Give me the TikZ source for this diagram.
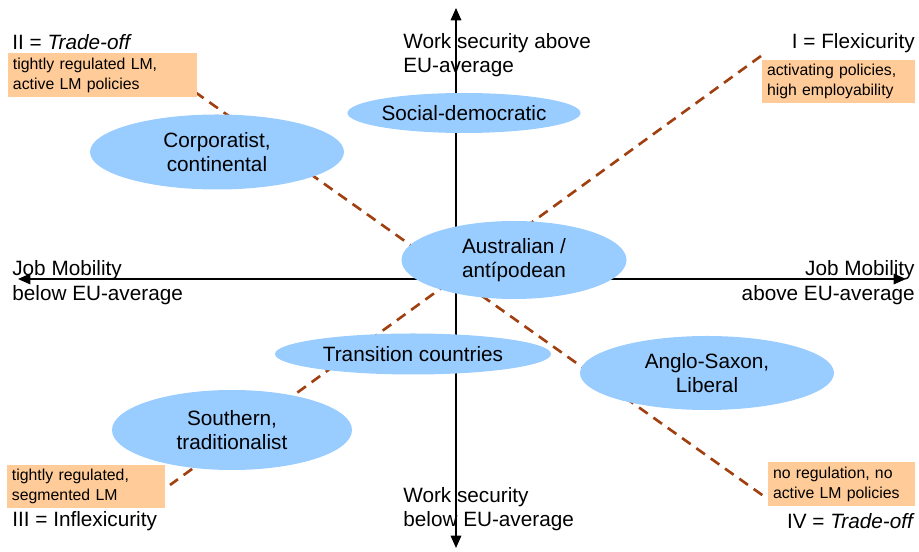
\documentclass[tikz,border=0pt]{standalone}
\usepackage{fontspec}
\setmainfont{Liberation Sans}
\usetikzlibrary{positioning,
        shapes.geometric,
        arrows.meta}
\usepackage{xcolor}
\definecolor{regime}{RGB}{153,204,255}
\definecolor{note}{RGB}{255,204,153}
\definecolor{diag}{RGB}{160,64,16}

\begin{document}
\begin{tikzpicture}[
        axis/.style={line width=0.9pt,{Triangle[length=7pt,width=6pt]}-{Triangle[length=7pt,width=6pt]}},
        diagline/.style={draw=diag,line width=1.5pt,dash pattern=on 6pt off 4pt},
        regime/.style={ellipse,fill=regime,inner sep=0pt,align=center,font=\fontsize{11.8}{14}\selectfont},
        notebox/.style={rectangle,fill=note,inner xsep=0.1cm,inner ysep=0pt,align=left,font=\fontsize{9}{11.3}\selectfont},
        lbl/.style={inner sep=0pt,font=\fontsize{11.8}{14}\selectfont}]
            \useasboundingbox (0,0) rectangle (18.38,-11.04);

            % axes
            \coordinate (top) at (9.12,-0.16);
            \coordinate (bottom) at (9.12,-10.96);
            \coordinate (left) at (0.36,-5.58);
            \coordinate (right) at (18.12,-5.58);
            \draw [axis] (bottom) -- (top);
            \draw [axis] (left) -- (right);

            % quadrant diagonals
            \coordinate (d1a) at (15.22,-1.12);
            \coordinate (d1b) at (3.40,-9.70);
            \coordinate (d2a) at (3.90,-1.84);
            \coordinate (d2b) at (15.30,-9.94);
            \draw [diagline] (d1a) -- (d1b);
            \draw [diagline] (d2a) -- (d2b);

            % welfare regimes
            \node [regime,minimum width=4.24cm,minimum height=0.8cm] (social) at (9.28,-2.26) {Social-democratic};
            \node [regime,minimum width=5.08cm,minimum height=1.5cm] (corp) at (4.34,-3.04) {Corporatist,\\continental};
            \node [regime,minimum width=4.5cm,minimum height=1.56cm] (austr) at (10.28,-5.2) {Australian /\\antípodean};
            \node [regime,minimum width=5.52cm,minimum height=0.82cm] (trans) at (8.26,-7.08) {Transition countries};
            \node [regime,minimum width=5.08cm,minimum height=1.48cm] (anglo) at (14.14,-7.46) {Anglo-Saxon,\\Liberal};
            \node [regime,minimum width=4.8cm,minimum height=1.6cm] (south) at (4.64,-8.6) {Southern,\\traditionalist};

            % quadrant notes
            \node [notebox,text width=3.58cm,minimum height=0.88cm] (noteII) at (2.05,-1.5) {tightly regulated LM,\\active LM policies};
            \node [notebox,text width=2.86cm,minimum height=0.86cm] (noteI) at (16.77,-1.63) {activating policies,\\high employability};
            \node [notebox,text width=2.96cm,minimum height=0.86cm] (noteIII) at (1.72,-9.73) {tightly regulated,\\segmented LM};
            \node [notebox,text width=2.74cm,minimum height=0.88cm] (noteIV) at (16.83,-9.68) {no regulation, no\\active LM policies};

            % quadrant names
            \node [lbl,anchor=west] (qII) at (0.24,-0.84) {II = \textit{Trade-off}};
            \node [lbl,anchor=east] (qI) at (18.3,-0.86) {I = Flexicurity};
            \node [lbl,anchor=west] (qIII) at (0.24,-10.42) {III = Inflexicurity};
            \node [lbl,anchor=east] (qIV) at (18.3,-10.42) {IV = \textit{Trade-off}};

            % axis labels
            \node [lbl,anchor=west,align=left] (secup) at (8.06,-1.1) {Work security above\\EU-average};
            \node [lbl,anchor=west,align=left] (secdown) at (8.06,-10.18) {Work security\\below EU-average};
            \node [lbl,anchor=west,align=left] (moblow) at (0.24,-5.65) {Job Mobility\\below EU-average};
            \node [lbl,anchor=east,align=right] (mobhigh) at (18.3,-5.65) {Job Mobility\\above EU-average};
        \end{tikzpicture}
\end{document}
